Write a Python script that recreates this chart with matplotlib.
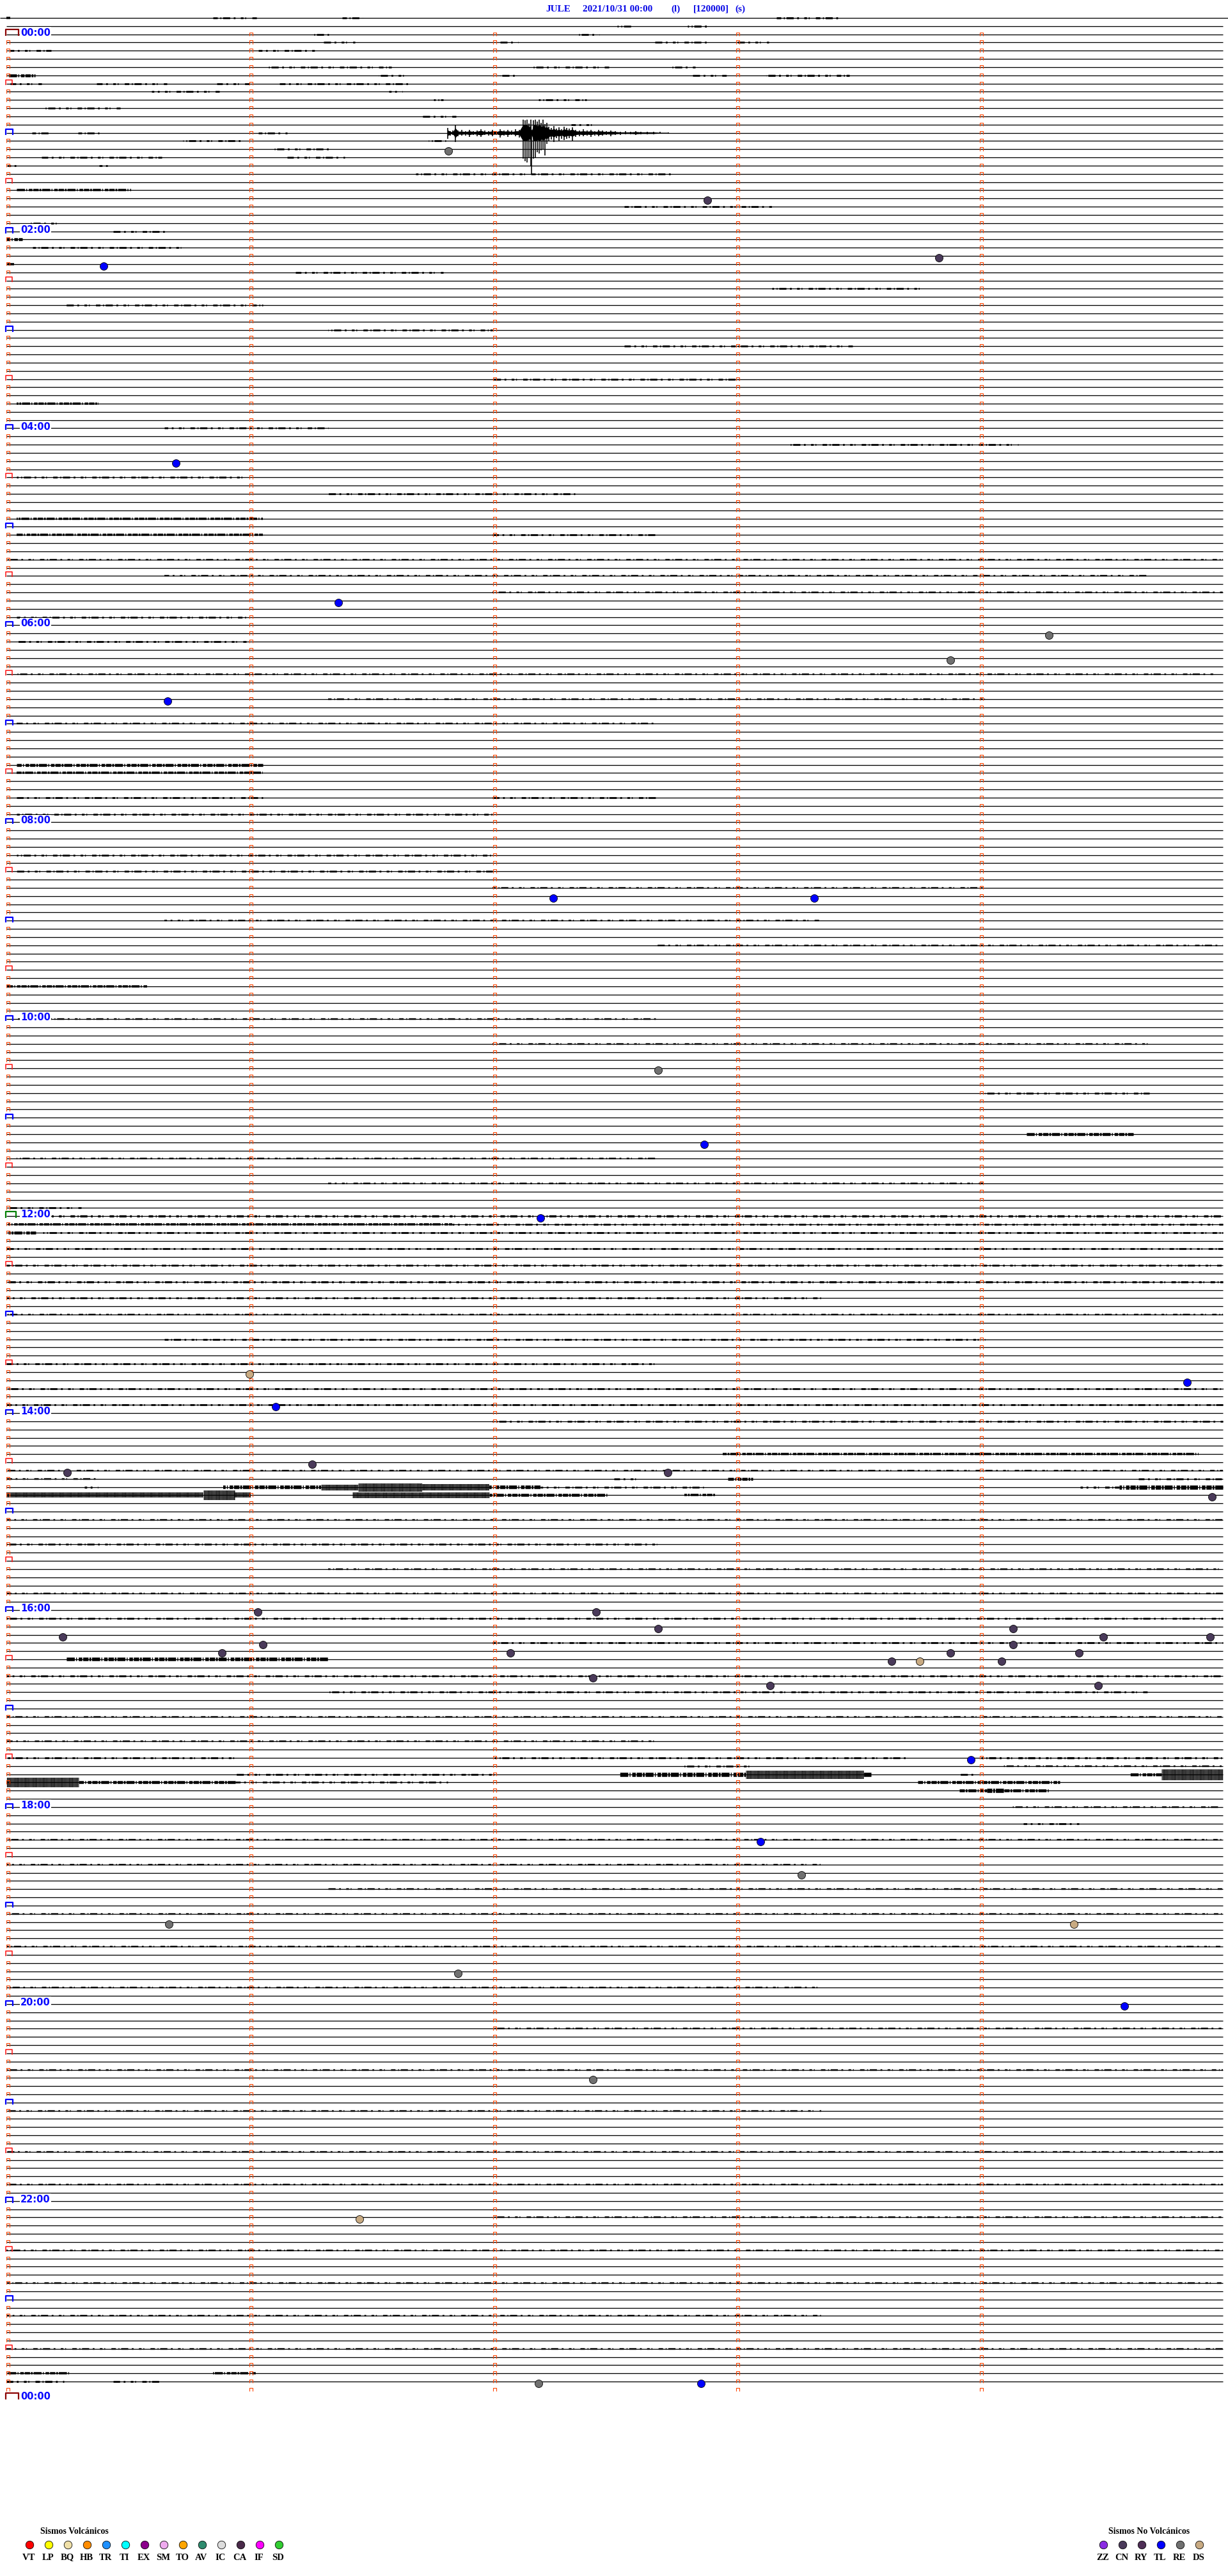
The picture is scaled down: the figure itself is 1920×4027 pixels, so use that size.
import numpy as np
import matplotlib.pyplot as plt
from matplotlib.collections import LineCollection

plt.rcParams['lines.scale_dashes'] = False

header_parts = ['JULE', '2021/10/31 00:00', '(l)', '[120000]', '(s)']
hour_labels = ['00:00', '02:00', '04:00', '06:00', '08:00', '10:00', '12:00',
               '14:00', '16:00', '18:00', '20:00', '22:00', '00:00']

n_traces = 289          # traces drawn (0 and 1 are before 00:00)
midnight_trace = 2      # trace that starts at 00:00
sec_per_trace = 300     # 5 minutes per line

# located events: trace index, seconds into the trace, class
ev_trace = [16, 22, 29, 30, 54, 71, 75, 78, 83, 107, 107, 128, 137, 146, 165, 166,
            169, 176, 177, 177, 180, 194, 194, 197, 196, 196, 197, 197, 198, 198,
            199, 199, 199, 199, 200, 200, 200, 202, 203, 203, 212, 222, 226, 232,
            232, 238, 242, 251, 268, 288, 288]
ev_sec = [109.0, 172.9, 230.0, 24.0, 41.8, 81.9, 257.1, 232.8, 39.7, 134.9, 199.2,
          160.7, 172.1, 131.7, 59.9, 291.2, 66.4, 75.4, 15.0, 163.1, 297.3, 62.0,
          145.4, 13.9, 160.7, 248.3, 270.5, 296.8, 63.2, 248.3, 53.2, 124.3, 232.8,
          264.5, 218.3, 225.2, 245.4, 144.6, 188.3, 269.2, 237.9, 186.0, 196.1,
          40.1, 263.3, 111.4, 275.7, 144.6, 87.1, 131.2, 171.3]
ev_class = ['RE', 'CN', 'CN', 'TL', 'TL', 'TL', 'RE', 'RE', 'TL', 'TL', 'TL',
            'RE', 'TL', 'TL', 'DS', 'TL', 'TL', 'CN', 'CN', 'CN', 'CN', 'CN',
            'CN', 'CN', 'CN', 'CN', 'CN', 'CN', 'CN', 'CN', 'CN', 'CN', 'CN',
            'CN', 'CN', 'DS', 'CN', 'CN', 'CN', 'CN', 'TL', 'TL', 'RE', 'RE',
            'DS', 'RE', 'TL', 'RE', 'DS', 'RE', 'TL']

# noisy stretches: (trace, start s, end s, half amplitude in px)
noise_bursts = [
    (0, 0, 1, 1.5), (0, 51.0, 61.8, 1), (0, 82.8, 87.9, 1), (0, 189.9, 206.0, 1.2),
    (1, 150.6, 154.6, 1), (1, 168.0, 173.8, 1.2),
    (2, 75.7, 79.5, 1), (2, 141.0, 146.2, 1),
    (3, 78.2, 86.0, 1), (3, 121.8, 126.2, 1), (3, 159.9, 173.2, 1), (3, 180.3, 188.0, 1),
    (4, 0.9, 11.0, 1), (4, 62.1, 76.3, 1),
    (6, 64.0, 95.0, 1), (6, 129.3, 148.7, 1), (6, 163.6, 170.0, 1),
    (7, 0.3, 7.1, 2), (7, 91.8, 99.4, 1), (7, 121.8, 126.2, 1), (7, 168.8, 177.8, 1),
    (7, 187.4, 207.9, 1.2),
    (8, 0.9, 8.7, 1), (8, 22.2, 39.6, 1), (8, 51.9, 60.3, 1), (8, 67.3, 99.4, 1),
    (9, 35.8, 52.5, 1), (9, 94.3, 97.6, 1),
    (10, 105.4, 107.7, 1), (10, 131.2, 143.1, 1),
    (11, 9.3, 28.1, 1), (12, 102.5, 110.9, 1), (13, 139.3, 145.1, 1),
    (14, 6.3, 11.0, 1), (14, 17.7, 22.9, 1), (14, 62.1, 69.2, 1),
    (15, 43.5, 58.4, 1), (15, 104.1, 108.4, 1), (16, 66.1, 80.1, 1),
    (17, 8.7, 38.3, 1), (17, 69.2, 83.4, 1), (18, 0.3, 3.0, 1), (18, 22.9, 25.4, 1),
    (19, 100.9, 164.0, 1), (21, 2.5, 30.8, 1.5), (23, 152.3, 188.8, 1),
    (25, 5.8, 13.1, 1), (26, 26.3, 39.4, 1), (27, 0, 3.9, 2), (28, 6.5, 43.0, 1),
    (30, 0, 1.9, 1.5), (31, 71.3, 107.8, 1), (33, 188.8, 225.2, 1), (35, 14.6, 63.2, 1),
    (38, 79.4, 119.9, 1), (40, 152.3, 209.0, 1), (44, 119.9, 180.7, 1), (47, 2.5, 22.7, 1.5),
    (50, 38.9, 79.4, 1), (52, 192.8, 249.5, 1), (56, 2.5, 59.2, 1), (58, 79.4, 140.2, 1),
    (61, 2.5, 63.2, 1.5), (63, 2.5, 63.2, 1.5), (63, 119.9, 160.4, 1), (66, 0, 300, 0.8),
    (68, 38.9, 281.9, 0.8), (70, 119.9, 300, 0.8), (73, 2.5, 59.2, 1), (76, 2.5, 59.2, 1),
    (80, 2.5, 298.0, 0.8), (83, 79.4, 241.4, 0.8), (86, 2.5, 160.4, 0.8), (91, 2.5, 63.2, 2),
    (92, 2.5, 63.2, 1.5), (95, 2.5, 63.2, 1), (95, 119.9, 160.4, 1), (97, 2.5, 119.9, 1),
    (102, 2.5, 119.9, 1), (104, 2.5, 119.9, 1), (106, 119.9, 241.4, 0.8),
    (110, 38.9, 200.9, 0.8), (113, 160.4, 300, 0.8), (118, 0, 34.9, 1.5),
    (122, 2.5, 160.4, 0.8), (125, 119.9, 281.9, 0.8), (131, 241.4, 281.9, 1),
    (136, 251.5, 277.9, 2), (139, 2.5, 160.4, 0.8), (142, 79.4, 241.4, 0.8),
    (145, 0.5, 18.5, 1), (146, 9.0, 300, 1.3), (147, 0.5, 110, 1.5), (147, 110, 300, 1),
    (148, 0.5, 7.4, 2), (148, 9.0, 300, 1),
    (150, 0, 300, 1), (152, 0, 300, 1), (154, 0, 300, 1.2), (156, 0, 200.9, 1),
    (158, 0, 300, 0.8), (161, 38.9, 241.4, 1), (164, 0, 160.4, 1), (167, 0, 300, 1),
    (169, 0, 300, 1), (171, 119.9, 300, 1), (175, 176.6, 294.0, 1.5),
    (177, 0, 300, 0.8), (178, 0, 23.0, 0.8), (178, 149.8, 156.6, 1), (178, 177.9, 184.1, 2),
    (178, 279.2, 299.7, 1),
    (179, 19.2, 22.6, 1.2), (179, 53.5, 77.6, 2.5), (179, 77.6, 86.8, 4),
    (179, 86.8, 102.5, 6), (179, 102.5, 119.1, 4.5), (179, 119.1, 131.7, 2.5),
    (179, 131.7, 171.9, 1), (179, 264.8, 274.5, 1.2), (179, 274.5, 300, 3),
    (180, 0, 48.6, 3.5), (180, 48.6, 56.3, 7), (180, 56.3, 60.3, 3.5),
    (180, 85.3, 119.1, 4), (180, 119.1, 148.1, 2), (180, 167.2, 174.9, 1.5),
    (183, 0, 300, 0.8), (186, 0, 160.4, 1), (189, 79.4, 300, 0.8), (192, 0, 300, 0.8),
    (195, 0, 300, 1), (198, 119.9, 300, 1), (200, 14.7, 79.3, 2.5), (202, 0, 300, 1),
    (204, 79.4, 281.9, 1), (207, 0, 300, 0.8), (210, 0, 160.4, 0.8),
    (212, 0.3, 56.5, 1), (212, 120.3, 222.9, 1), (212, 240.4, 299.7, 1.2),
    (213, 166.7, 184.2, 1), (213, 245.6, 299.7, 0.8),
    (214, 56.5, 120.3, 1), (214, 151.3, 182.3, 3), (214, 182.3, 211.4, 6),
    (214, 211.4, 213.3, 3), (214, 235.0, 239.3, 1), (214, 277.1, 284.8, 2),
    (214, 284.8, 300, 8),
    (215, 0, 17.8, 7), (215, 17.8, 56.5, 2), (215, 56.5, 108.8, 1), (215, 224.8, 259.8, 2),
    (216, 235.0, 241.8, 2), (216, 241.8, 246.1, 3), (216, 246.1, 257.1, 2),
    (218, 248.1, 299.7, 0.8), (220, 250.8, 264.5, 1),
    (222, 0, 300, 0.8), (225, 0, 200.9, 0.8), (228, 79.4, 300, 0.8), (231, 0, 300, 0.8),
    (235, 0, 300, 0.8), (240, 0, 200.9, 0.8), (245, 119.9, 300, 0.8), (250, 0, 300, 0.8),
    (255, 0, 200.9, 0.8), (260, 0, 300, 0.8), (264, 0, 300, 0.8), (268, 119.9, 300, 0.8),
    (272, 0, 300, 0.8), (276, 0, 300, 0.8), (280, 0, 200.9, 0.8), (284, 0, 300, 0.8),
    (287, 0, 15.8, 1.5), (287, 51.0, 61.5, 1.5), (288, 0, 14.2, 1.2), (288, 26.3, 38.3, 1),
]

# regional earthquake on trace 14: time (s) and envelope up / down (px at plotted gain)
eq_trace = 14
eq_sec = [108.8, 109.5, 110.1, 110.7, 111.4, 112.3, 113.3, 114.2, 115.1, 116.1, 117.0,
          118.0, 118.9, 119.9, 120.8, 121.8, 122.7, 123.7, 124.6, 125.6, 126.5, 127.4,
          127.9, 128.4, 128.9, 129.3, 129.5, 130.0, 130.4, 130.9, 131.4, 131.9, 132.3,
          132.8, 133.3, 133.8, 134.4, 135.0, 135.6, 136.3, 136.9, 137.5, 138.2, 138.8,
          139.6, 140.4, 141.3, 142.3, 143.2, 144.2, 145.1, 146.1, 147.0, 148.0, 149.1,
          150.2, 151.4, 152.7, 153.9, 155.2, 156.5, 158.0, 159.6, 161.2, 163.2]
eq_up = [7.7, 3, 4, 12.7, 4, 5, 3, 5, 3, 4, 6, 4, 3, 5, 3, 6, 4, 5, 4, 6, 5, 21,
         20, 21, 15, 21, 5, 20, 21, 18, 21, 16, 21, 14, 16, 10, 8, 11, 7, 9, 6, 10,
         8, 7, 9, 5, 4, 6, 4, 5, 3, 5, 4, 3, 4, 3, 2, 3, 2, 3, 2, 2, 2, 2, 1]
eq_dn = [9, 4, 3, 14, 5, 4, 4, 6, 3, 5, 6, 3, 4, 5, 3, 7, 4, 6, 3, 5, 7, 40,
         44, 46, 38, 52, 64, 40, 39, 30, 32, 27, 26, 35, 17, 12, 10, 14, 8, 12, 9, 11,
         9, 8, 12, 6, 5, 5, 4, 6, 4, 5, 4, 3, 5, 3, 3, 2, 2, 3, 2, 2, 2, 1, 1]

volc_codes = ['VT', 'LP', 'BQ', 'HB', 'TR', 'TI', 'EX', 'SM', 'TO', 'AV', 'IC', 'CA', 'IF', 'SD']
volc_colors = ['#ff0000', '#ffff00', '#f0e0a8', '#ff8c00', '#1e90ff', '#00ffff', '#8b008b',
               '#eeaaee', '#ffa500', '#2e8b6e', '#dcdcdc', '#4a2a4a', '#ff00ff', '#32cd32']
novolc_codes = ['ZZ', 'CN', 'RY', 'TL', 'RE', 'DS']
novolc_colors = ['#8a2be2', '#4a3a5a', '#4e2e56', '#0000ff', '#707070', '#c8aa82']

# ---------------- layout (pixels of the 1920 x 4027 page) ----------------
W, H = 1920, 4027
X0, PX_PER_SEC = 10, 380.4 / 60
Y0, ROW_PX = 28, 12.83
PT = 0.72  # points per pixel at dpi 100

# broken dash patterns (points) so noise reads as scattered ticks
LIGHT_DASH = (5, 3, 1, 2, 8, 4, 2, 6, 3, 2, 1, 7)
MID_DASH = (6, 1, 2, 1, 9, 1.5, 1, 2, 4, 1)
HEAVY_DASH = (1.2, 0.35)


def dx(px):
    return px / PX_PER_SEC


def dy(px):
    return px / ROW_PX


def to_data(px, py):
    return (px - X0) / PX_PER_SEC, (py - Y0) / ROW_PX


fig = plt.figure(figsize=(W / 100, H / 100), dpi=100)
ax = fig.add_axes([0, 0, 1, 1])
ax.set_xlim(to_data(0, 0)[0], to_data(W, 0)[0])
ax.set_ylim(to_data(0, H)[1], to_data(0, 0)[1])
ax.axis('off')

# header
for part, left in zip(header_parts, [853, 911, 1049, 1084, 1149]):
    fig.text(left / W, 1 - 14 / H, part, color='#0a0ae6', fontsize=11, fontweight='bold',
             family=['Liberation Serif', 'DejaVu Serif'], ha='left', va='center')

# trace base lines
ax.hlines(0, *ax.get_xlim(), color='black', lw=1.3 * PT)
ax.hlines(np.arange(1, n_traces), 0, sec_per_trace, color='black', lw=1.3 * PT)

# noise
for tr, t0, t1, amp in noise_bursts:
    if amp <= 1.3:
        dash, lw = LIGHT_DASH, 2 * amp + 0.8
    elif amp <= 3:
        dash, lw = MID_DASH, 2 * amp + 0.5
    else:
        dash, lw = HEAVY_DASH, 2 * amp + 1
    ax.plot([t0, t1], [tr, tr], color='black', lw=lw * PT,
            linestyle=(tr * 3.7 % 17, dash), dash_capstyle='butt', solid_capstyle='butt')

# earthquake
eq_s = np.array(eq_sec)
up = np.array(eq_up) / ROW_PX
dn = np.array(eq_dn) / ROW_PX
ax.vlines(eq_s, eq_trace - up, eq_trace + dn, color='black', lw=1.6 * PT)
core = np.minimum(up, dn) * 0.6
ax.fill_between(eq_s, eq_trace - core, eq_trace + core, color='black', lw=0)

# time brackets
hour_rows = list(range(midnight_trace, n_traces + 2, 12))
half_rows = list(range(midnight_trace + 6, n_traces + 1, 12))


def bracket(t, tr, width, top, bottom, left=0.0):
    x0 = t + dx(left)
    x1 = x0 + dx(width)
    return [(x0, tr + dy(bottom)), (x0, tr - dy(top)), (x1, tr - dy(top)), (x1, tr + dy(bottom))]


small = []
for tr in range(midnight_trace, n_traces + 1):
    for m in range(0, sec_per_trace, 60):
        if m == 0 and (tr in hour_rows or tr in half_rows):
            continue
        small.append(bracket(m, tr, 5, 3, 2.3))
ax.add_collection(LineCollection(small, colors='#ff4500', linewidths=1.1 * PT))

half = [bracket(0, tr, 10, 6, 2, left=-1) for tr in half_rows]
ax.add_collection(LineCollection(half, colors='#ff1a1a', linewidths=1.6 * PT))

for tr in hour_rows:
    k = tr - midnight_trace
    if k % 288 == 0:
        seg, col = bracket(0, tr, 20, 7.3, 2.5, left=-1), '#8b0000'
    elif k == 144:
        seg, col = bracket(0, tr, 16, 7, 3, left=-1), '#008000'
    else:
        seg, col = bracket(0, tr, 11, 5.3, 3, left=-1), '#0000ff'
    ax.add_collection(LineCollection([seg], colors=col, linewidths=2.2 * PT))

for i, lab in enumerate(hour_labels):
    tr = midnight_trace + 24 * i
    ax.text(dx(22), tr - dy(2.5), lab, color='#0a0aff', fontsize=10.5, fontweight='bold',
            family=['Liberation Sans Narrow', 'DejaVu Sans'], ha='left', va='center',
            bbox=dict(facecolor='white', edgecolor='none', pad=1.0))

# events
cls_color = dict(zip(volc_codes + novolc_codes, volc_colors + novolc_colors))
for tr, s, c in zip(ev_trace, ev_sec, ev_class):
    ax.plot(s, tr + dy(3), 'o', ms=12 * PT, mfc=cls_color[c], mec='black', mew=0.8 * PT)

# legends
serif = ['Liberation Serif', 'DejaVu Serif']


def legend_row(codes, colors, x_first, title, title_x):
    tx, ty = to_data(title_x, 3957)
    ax.text(tx, ty, title, fontsize=10, fontweight='bold', family=serif, ha='left', va='center')
    for i, (code, col) in enumerate(zip(codes, colors)):
        cx, cy = to_data(x_first + 30 * i, 3978)
        ax.plot(cx, cy, 'o', ms=12.5 * PT, mfc=col, mec='black', mew=0.8 * PT)
        lx, ly = to_data(x_first + 30 * i - 1, 3998)
        ax.text(lx, ly, code, fontsize=10.5, fontweight='bold', family=serif, ha='center', va='center')


legend_row(volc_codes, volc_colors, 46, 'Sismos Volcánicos', 63)
legend_row(novolc_codes, novolc_colors, 1725, 'Sismos No Volcánicos', 1733)

fig.savefig('out.png', dpi=100)
